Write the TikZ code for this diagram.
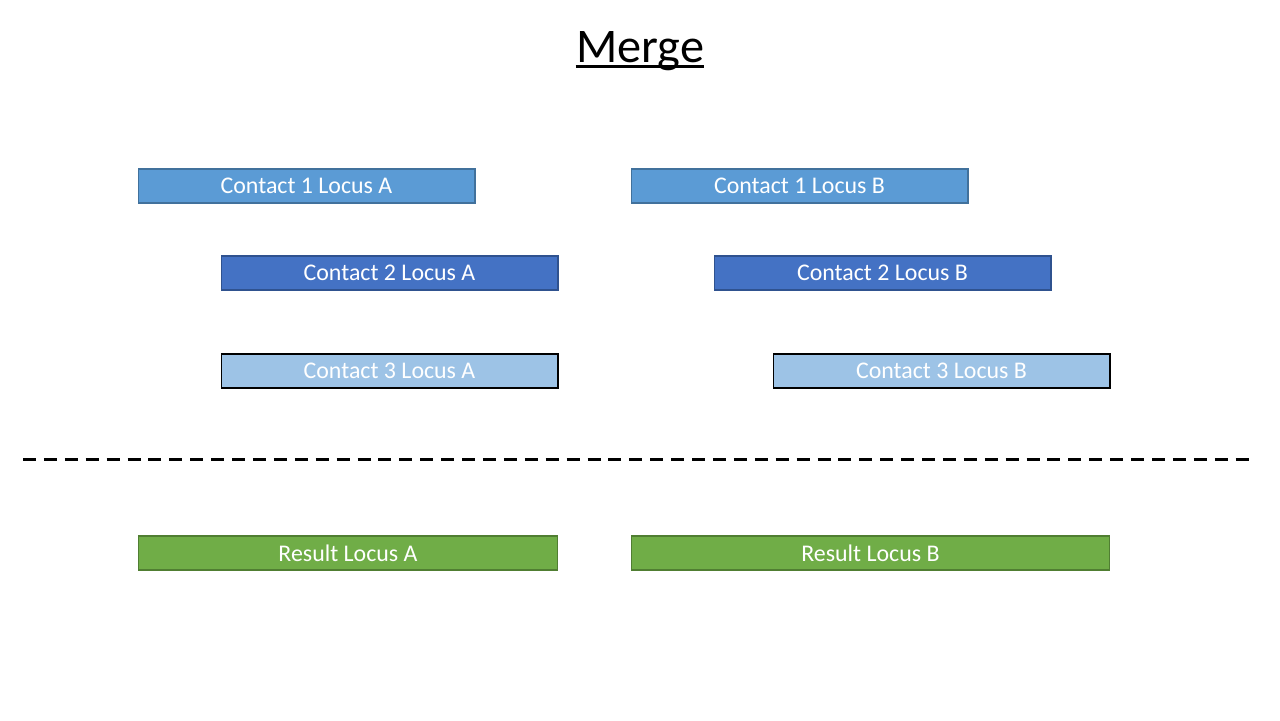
\documentclass[tikz,border=0pt]{standalone}
\usepackage{fontspec}
\setmainfont{Carlito}
\definecolor{contactone}{HTML}{5B9BD5}
\definecolor{contactoneline}{HTML}{41719C}
\definecolor{contacttwo}{HTML}{4472C4}
\definecolor{contacttwoline}{HTML}{2F528F}
\definecolor{contactthree}{HTML}{9DC3E6}
\definecolor{result}{HTML}{70AD47}
\definecolor{resultline}{HTML}{507E32}
\tikzset{
	locus box/.style={rectangle, inner sep=0pt, minimum height=0.68cm, text=white, font=\fontsize{13.6}{16}\selectfont, line width=0.6pt},
	contact one/.style={locus box, fill=contactone, draw=contactoneline, minimum width=6.74cm},
	contact two/.style={locus box, fill=contacttwo, draw=contacttwoline, minimum width=6.74cm},
	contact three/.style={locus box, fill=contactthree, draw=black, minimum width=6.74cm},
	result box/.style={locus box, fill=result, draw=resultline},
}
\begin{document}
\begin{tikzpicture}[x=0.02cm,y=-0.02cm]
		\useasboundingbox[fill=white] (0,0) rectangle (1280,720);
		\node[inner sep=0pt, anchor=base, font=\fontsize{27.5}{32}\selectfont] (title) at (640,62) {Merge};
		\draw[line width=1.7pt] ([yshift=-2.4pt]title.base west) -- ([yshift=-2.4pt]title.base east);
		% locus A
		\node[contact one] (c1a) at (306.5,186) {Contact 1 Locus A};
		\node[contact two] (c2a) at (389.5,273) {Contact 2 Locus A};
		\node[contact three] (c3a) at (389.5,371) {Contact 3 Locus A};
		% locus B
		\node[contact one] (c1b) at (799.5,186) {Contact 1 Locus B};
		\node[contact two] (c2b) at (882.5,273) {Contact 2 Locus B};
		\node[contact three] (c3b) at (941.5,371) {Contact 3 Locus B};
		% separator
		\coordinate (sl) at (23,459);
		\coordinate (sr) at (1255,459);
		\draw[line width=1.7pt, dash pattern=on 7.4pt off 4.5pt] (sl) -- (sr);
		% results
		\node[result box, minimum width=8.4cm] (ra) at (348,553) {Result Locus A};
		\node[result box, minimum width=9.58cm] (rb) at (870.5,553) {Result Locus B};
	\end{tikzpicture}
\end{document}
